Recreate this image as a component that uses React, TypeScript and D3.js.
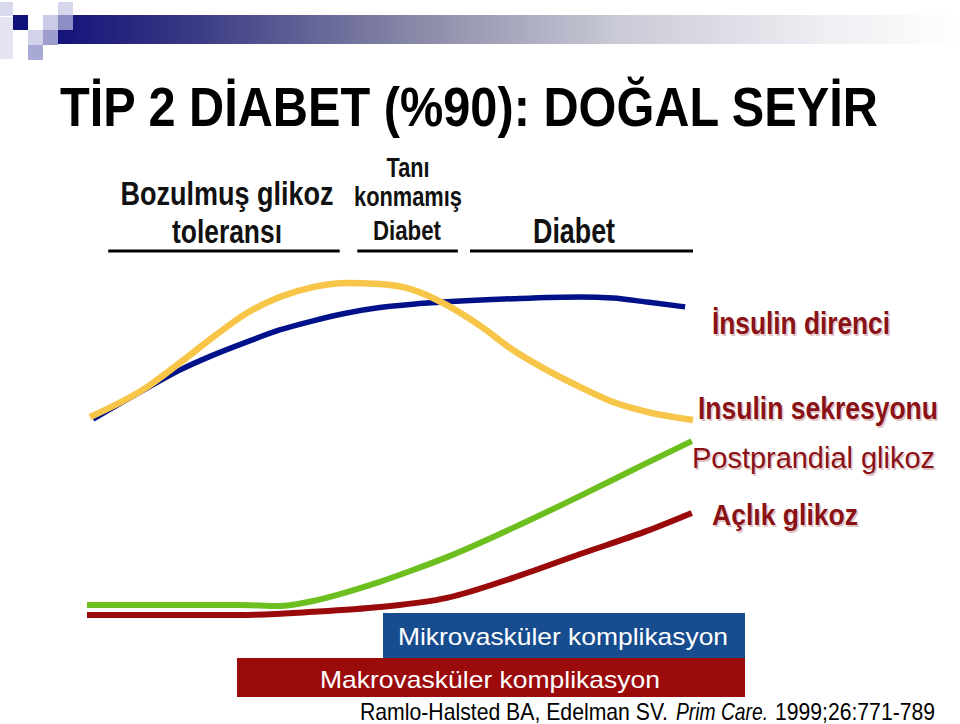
import React from "react";
import * as d3 from "d3";

type Pt = [number, number];

// time (0-100, disease course) vs. relative level (0-100)
const insulinResistance: Pt[] = [
  [1.0, 59.1], [9.9, 68.2], [15.3, 73.5], [20.8, 77.9], [26.4, 81.8], [31.8, 85.3],
  [37.3, 88.0], [42.9, 90.3], [48.3, 91.9], [53.8, 92.9], [59.4, 93.6], [70.3, 94.5],
  [81.4, 95.0], [86.8, 94.7], [92.4, 93.5], [98.7, 92.1],
];
const insulinSecretion: Pt[] = [
  [0.5, 59.7], [9.9, 68.5], [15.3, 75.6], [20.8, 83.2], [26.4, 90.3], [31.8, 95.0],
  [37.3, 97.9], [42.9, 99.1], [48.3, 98.8], [53.8, 97.1], [59.4, 92.6], [64.9, 86.5],
  [70.3, 79.4], [75.9, 73.5], [81.4, 68.5], [86.8, 64.1], [92.4, 61.2], [100, 58.8],
];
const postprandialGlucose: Pt[] = [
  [0, 4.4], [25.2, 4.4], [31.8, 4.1], [37.3, 5.6], [42.9, 8.2], [48.3, 11.2],
  [53.8, 14.7], [59.4, 18.5], [70.3, 27.1], [81.4, 36.5], [92.4, 46.2], [99.8, 52.6],
];
const fastingGlucose: Pt[] = [
  [0, 1.5], [25.2, 1.5], [37.3, 2.4], [48.3, 3.8], [59.4, 6.5], [70.3, 12.4],
  [81.4, 19.4], [92.4, 26.2], [99.8, 31.5],
];

const titleText = "TİP 2 DİABET (%90): DOĞAL SEYİR";
const stageLabels: string[][] = [["Bozulmuş glikoz", "toleransı"], ["Tanı", "konmamış", "Diabet"], ["Diabet"]];
const stageStart = [3.5, 44.6, 63.2];
const stageEnd = [41.7, 61.2, 100];
const curveLabels = ["İnsulin direnci", "Insulin sekresyonu", "Postprandial glikoz", "Açlık glikoz"];
const complicationLabels = ["Mikrovasküler komplikasyon", "Makrovasküler komplikasyon"];
const citationParts = ["Ramlo-Halsted BA, Edelman SV.", "Prim Care.", "1999;26:771-789"];

const NARROW = "'Liberation Sans Narrow', 'Arial Narrow', 'Liberation Sans', Arial, sans-serif";
const SANS = "'Liberation Sans', Arial, sans-serif";
const LABEL_RED = "#8a1216";

export default function App() {
  const W = 960, H = 724;
  const x = d3.scaleLinear().domain([0, 100]).range([87, 693]);
  const y = d3.scaleLinear().domain([0, 100]).range([620, 280]);
  const line = d3
    .line<Pt>()
    .x((d) => x(d[0]))
    .y((d) => y(d[1]))
    .curve(d3.curveMonotoneX);

  const series = [
    { data: insulinResistance, color: "#00118a", w: 5.5 },
    { data: insulinSecretion, color: "#f7c548", w: 6.5 },
    { data: fastingGlucose, color: "#9a0a0a", w: 6 },
    { data: postprandialGlucose, color: "#6cbf1e", w: 6 },
  ];

  const stageTextLayout = [
    [
      { cx: 227, y: 205, size: 33, len: 213 },
      { cx: 227, y: 243, size: 33, len: 110 },
    ],
    [
      { cx: 408, y: 177, size: 27, len: 43 },
      { cx: 408, y: 206, size: 27, len: 108 },
      { cx: 407, y: 240, size: 27, len: 68 },
    ],
    [{ cx: 574, y: 243, size: 35, len: 82 }],
  ];

  const curveLabelLayout = [
    { x: 712, y: 334, size: 31, len: 178, weight: "bold" },
    { x: 698, y: 419, size: 31, len: 240, weight: "bold" },
    { x: 692, y: 468, size: 29, len: 243, weight: "normal" },
    { x: 712, y: 525, size: 30, len: 146, weight: "bold" },
  ];

  const squares = [
    { x: 0, y: 2, w: 13, h: 14, c: "#d9d9ee" },
    { x: 0, y: 17, w: 13, h: 42, c: "#e4e4f3" },
    { x: 13, y: 15, w: 15, h: 15, c: "#11117c" },
    { x: 28, y: 30, w: 15, h: 15, c: "#d2d2ea" },
    { x: 28, y: 45, w: 15, h: 15, c: "#a9a9d5" },
    { x: 43, y: 15, w: 15, h: 15, c: "#cbcbe7" },
    { x: 43, y: 30, w: 15, h: 15, c: "#9c9ccd" },
    { x: 58, y: 2, w: 15, h: 13, c: "#d6d6ec" },
    { x: 58, y: 15, w: 15, h: 15, c: "#8e8ec6" },
  ];

  return (
    <svg
      width={W}
      height={H}
      viewBox={`0 0 ${W} ${H}`}
      style={{ position: "absolute", left: 0, top: 0, background: "#fff" }}
    >
      <defs>
        <linearGradient id="topbar" x1="0" x2="1" y1="0" y2="0">
          <stop offset="0" stopColor="#13137a" />
          <stop offset="0.15" stopColor="#3a3a85" />
          <stop offset="0.4" stopColor="#8a8aa8" />
          <stop offset="0.62" stopColor="#c9cad6" />
          <stop offset="0.85" stopColor="#eeeef3" />
          <stop offset="1" stopColor="#ffffff" />
        </linearGradient>
      </defs>
      <rect x={0} y={0} width={W} height={H} fill="#fff" />

      {/* top decoration */}
      <rect x={58} y={15} width={W - 58} height={29} fill="url(#topbar)" />
      {squares.map((s, i) => (
        <rect key={i} x={s.x} y={s.y} width={s.w} height={s.h} fill={s.c} />
      ))}

      {/* title */}
      <text
        x={60}
        y={126}
        fontFamily={SANS}
        fontWeight="bold"
        fontSize={56}
        textLength={818}
        lengthAdjust="spacingAndGlyphs"
        fill="#000"
      >
        {titleText}
      </text>

      {/* stage headers */}
      {stageLabels.map((lines, si) => (
        <g key={si}>
          {lines.map((t, li) => {
            const L = stageTextLayout[si][li];
            return (
              <text
                key={li}
                x={L.cx - L.len / 2}
                y={L.y}
                fontFamily={NARROW}
                fontWeight="bold"
                fontSize={L.size}
                textLength={L.len}
                lengthAdjust="spacingAndGlyphs"
                fill="#111"
              >
                {t}
              </text>
            );
          })}
          <line
            x1={x(stageStart[si])}
            x2={x(stageEnd[si])}
            y1={251}
            y2={251}
            stroke="#000"
            strokeWidth={3}
          />
        </g>
      ))}

      {/* curves */}
      {series.map((s, i) => (
        <path
          key={i}
          d={line(s.data) || ""}
          fill="none"
          stroke={s.color}
          strokeWidth={s.w}
          strokeLinecap="butt"
          strokeLinejoin="round"
        />
      ))}

      {/* curve labels */}
      {curveLabels.map((t, i) => {
        const L = curveLabelLayout[i];
        return (
          <g key={i}>
            <text
              x={L.x + 1.5}
              y={L.y + 1.5}
              fontFamily={NARROW}
              fontWeight={L.weight}
              fontSize={L.size}
              textLength={L.len}
              lengthAdjust="spacingAndGlyphs"
              fill="#e2c4c4"
            >
              {t}
            </text>
            <text
              x={L.x}
              y={L.y}
              fontFamily={NARROW}
              fontWeight={L.weight}
              fontSize={L.size}
              textLength={L.len}
              lengthAdjust="spacingAndGlyphs"
              fill={LABEL_RED}
            >
              {t}
            </text>
          </g>
        );
      })}

      {/* complication bars */}
      <rect x={383} y={613} width={362} height={45} fill="#174d8e" />
      <rect x={237} y={658} width={508} height={39} fill="#9b0b0b" />
      <text
        x={398}
        y={645}
        fontFamily={NARROW}
        fontSize={24}
        textLength={330}
        lengthAdjust="spacingAndGlyphs"
        fill="#fff"
      >
        {complicationLabels[0]}
      </text>
      <text
        x={320}
        y={688}
        fontFamily={NARROW}
        fontSize={24}
        textLength={340}
        lengthAdjust="spacingAndGlyphs"
        fill="#fff"
      >
        {complicationLabels[1]}
      </text>

      {/* citation */}
      <text x={360} y={720} fontFamily={NARROW} fontSize={24} textLength={308} lengthAdjust="spacingAndGlyphs" fill="#000">
        {citationParts[0]}
      </text>
      <text x={676} y={720} fontFamily={NARROW} fontStyle="italic" fontSize={24} textLength={92} lengthAdjust="spacingAndGlyphs" fill="#000">
        {citationParts[1]}
      </text>
      <text x={775} y={720} fontFamily={NARROW} fontSize={24} textLength={160} lengthAdjust="spacingAndGlyphs" fill="#000">
        {citationParts[2]}
      </text>
    </svg>
  );
}
